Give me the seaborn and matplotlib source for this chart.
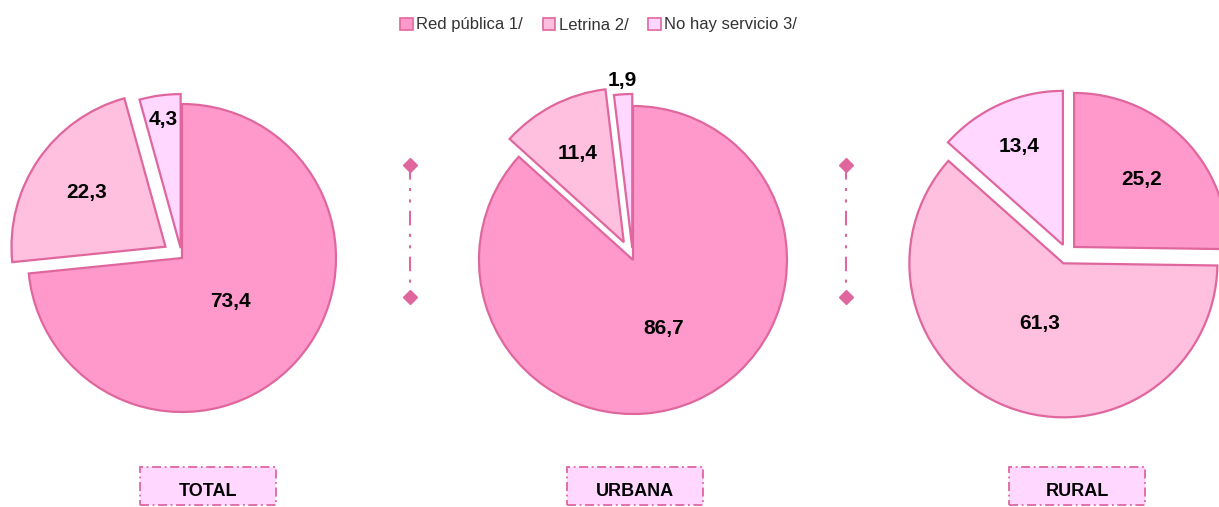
import numpy as np
import matplotlib
matplotlib.use("Agg")
from matplotlib import pyplot as plt
from matplotlib.patches import Patch, Rectangle
import seaborn as sns

# data (%)
categories = ["Red pública 1/", "Letrina 2/", "No hay servicio 3/"]
groups = ["TOTAL", "URBANA", "RURAL"]
total_vals = [73.4, 22.3, 4.3]
urbana_vals = [86.7, 11.4, 1.9]
rural_vals = [25.2, 61.3, 13.4]

sns.set_style("white")
plt.rcParams["font.family"] = ["Liberation Sans Narrow", "Liberation Sans", "DejaVu Sans"]

colors = ["#FF99CC", "#FFBFDF", "#FFD7FF"]
edge = "#E0669E"

W, H = 1219, 507
fig = plt.figure(figsize=(W / 100, H / 100), dpi=100)
ax = fig.add_axes([0, 0, 1, 1])

R = 154
# pixel layout: center (x, y from top), explode per slice (px), label distance per slice
layout = [
    dict(c=(182, 258), expl=[0, 20, 10], ld=[0.42, 0.62, 0.84], box=208),
    dict(c=(633, 260), expl=[0, 20, 12], ld=[0.49, 0.65, 1.09], box=635),
    dict(c=(1067, 254), expl=[10, 10, 10], ld=[0.62, 0.42, 0.70], box=1077),
]

for vals, name, lay in zip([total_vals, urbana_vals, rural_vals], groups, layout):
    cx, cy = lay["c"]
    wedges, _ = ax.pie(
        vals,
        explode=lay["expl"],
        center=(cx, H - cy),
        radius=R,
        startangle=90,
        counterclock=False,
        colors=colors,
        wedgeprops=dict(edgecolor=edge, linewidth=1.6),
    )
    for w, v, d in zip(wedges, vals, lay["ld"]):
        th = np.deg2rad((w.theta1 + w.theta2) / 2)
        x = w.center[0] + d * w.r * np.cos(th)
        y = w.center[1] + d * w.r * np.sin(th)
        ax.text(x, y, f"{v:.1f}".replace(".", ","), ha="center", va="center",
                fontsize=15, fontweight="bold", color="black")

    # category box at the bottom
    bx = lay["box"]
    ax.add_patch(Rectangle((bx - 68, H - 505), 136, 38, facecolor="#FFD7FF",
                           edgecolor=edge, linestyle=(0, (5, 2, 1, 2)), linewidth=1.3))
    ax.text(bx, H - 491, name, ha="center", va="center", fontsize=13,
            fontweight="bold", color="black")

# separators between pies
for sx in [410, 846]:
    ax.plot([sx, sx], [H - 165, H - 297], color=edge, lw=1.5,
            dashes=(7, 4, 1.5, 4, 1.5, 4))
    ax.plot([sx, sx], [H - 165, H - 297], color=edge, lw=0, marker="D", markersize=7)

ax.set_xlim(0, W)
ax.set_ylim(0, H)
ax.set_aspect("equal")
ax.axis("off")

handles = [Patch(facecolor=c, edgecolor=edge, linewidth=1.2) for c in colors]
fig.legend(handles, categories, loc="center", bbox_to_anchor=(0.491, 1 - 25 / H),
           ncol=3, frameon=False, fontsize=12, handlelength=0.75, handleheight=0.75,
           handletextpad=0.2, columnspacing=1.2, labelcolor="#333333")

fig.savefig("out.png", dpi=100)
